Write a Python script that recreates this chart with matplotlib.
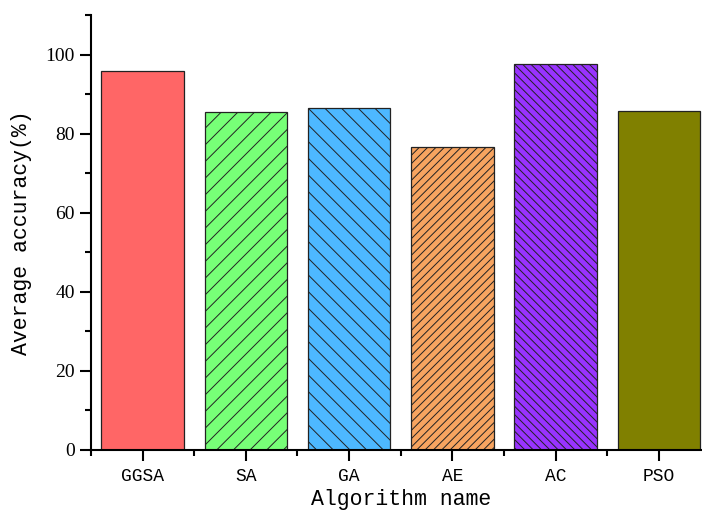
import matplotlib
matplotlib.use("Agg")
import matplotlib.pyplot as plt
from matplotlib.ticker import MultipleLocator

algorithms = ["GGSA", "SA", "GA", "AE", "AC", "PSO"]
accuracy = [95.9, 85.5, 86.6, 76.6, 97.5, 85.8]
colors = ["#FF6666", "#77FF77", "#4DB8FF", "#F7A460", "#9933FF", "#808000"]
hatches = ["", "//", "\\\\", "////", "\\\\\\\\", ""]

plt.rcParams["hatch.linewidth"] = 0.7
plt.rcParams["hatch.color"] = "#333333"

fig = plt.figure(figsize=(7.02, 5.13), dpi=100)
ax = fig.add_axes([91 / 702, 63 / 513, 619.5 / 702, 435 / 513])

x = range(len(algorithms))
for i in x:
    ax.bar(i, accuracy[i], width=0.8, color=colors[i], hatch=hatches[i],
           edgecolor="#222222", linewidth=0.9)

ax.set_xlim(-0.5, 5.5)
ax.set_ylim(0, 110)
ax.spines["top"].set_visible(False)
ax.spines["right"].set_visible(False)
ax.spines["left"].set_linewidth(1.5)
ax.spines["bottom"].set_linewidth(1.5)

ax.set_xticks(list(x))
ax.set_xticklabels(algorithms, family="Liberation Mono", fontsize=13)
ax.xaxis.set_minor_locator(MultipleLocator(1, offset=0.5))
ax.yaxis.set_minor_locator(MultipleLocator(10))
ax.set_yticks([0, 20, 40, 60, 80, 100])
ax.set_yticklabels(["0", "20", "40", "60", "80", "100"], family="Liberation Serif", fontsize=14)

ax.tick_params(axis="both", which="major", direction="out", length=8, width=1.5)
ax.tick_params(axis="x", which="major", pad=5)
ax.tick_params(axis="both", which="minor", direction="out", length=4, width=1.5)

ax.set_xlabel("Algorithm name", family="Liberation Mono", fontsize=15.5, labelpad=3)
ax.set_ylabel("Average accuracy(%)", family="Liberation Mono", fontsize=15.5, labelpad=10)

fig.savefig("out.png", dpi=100)
